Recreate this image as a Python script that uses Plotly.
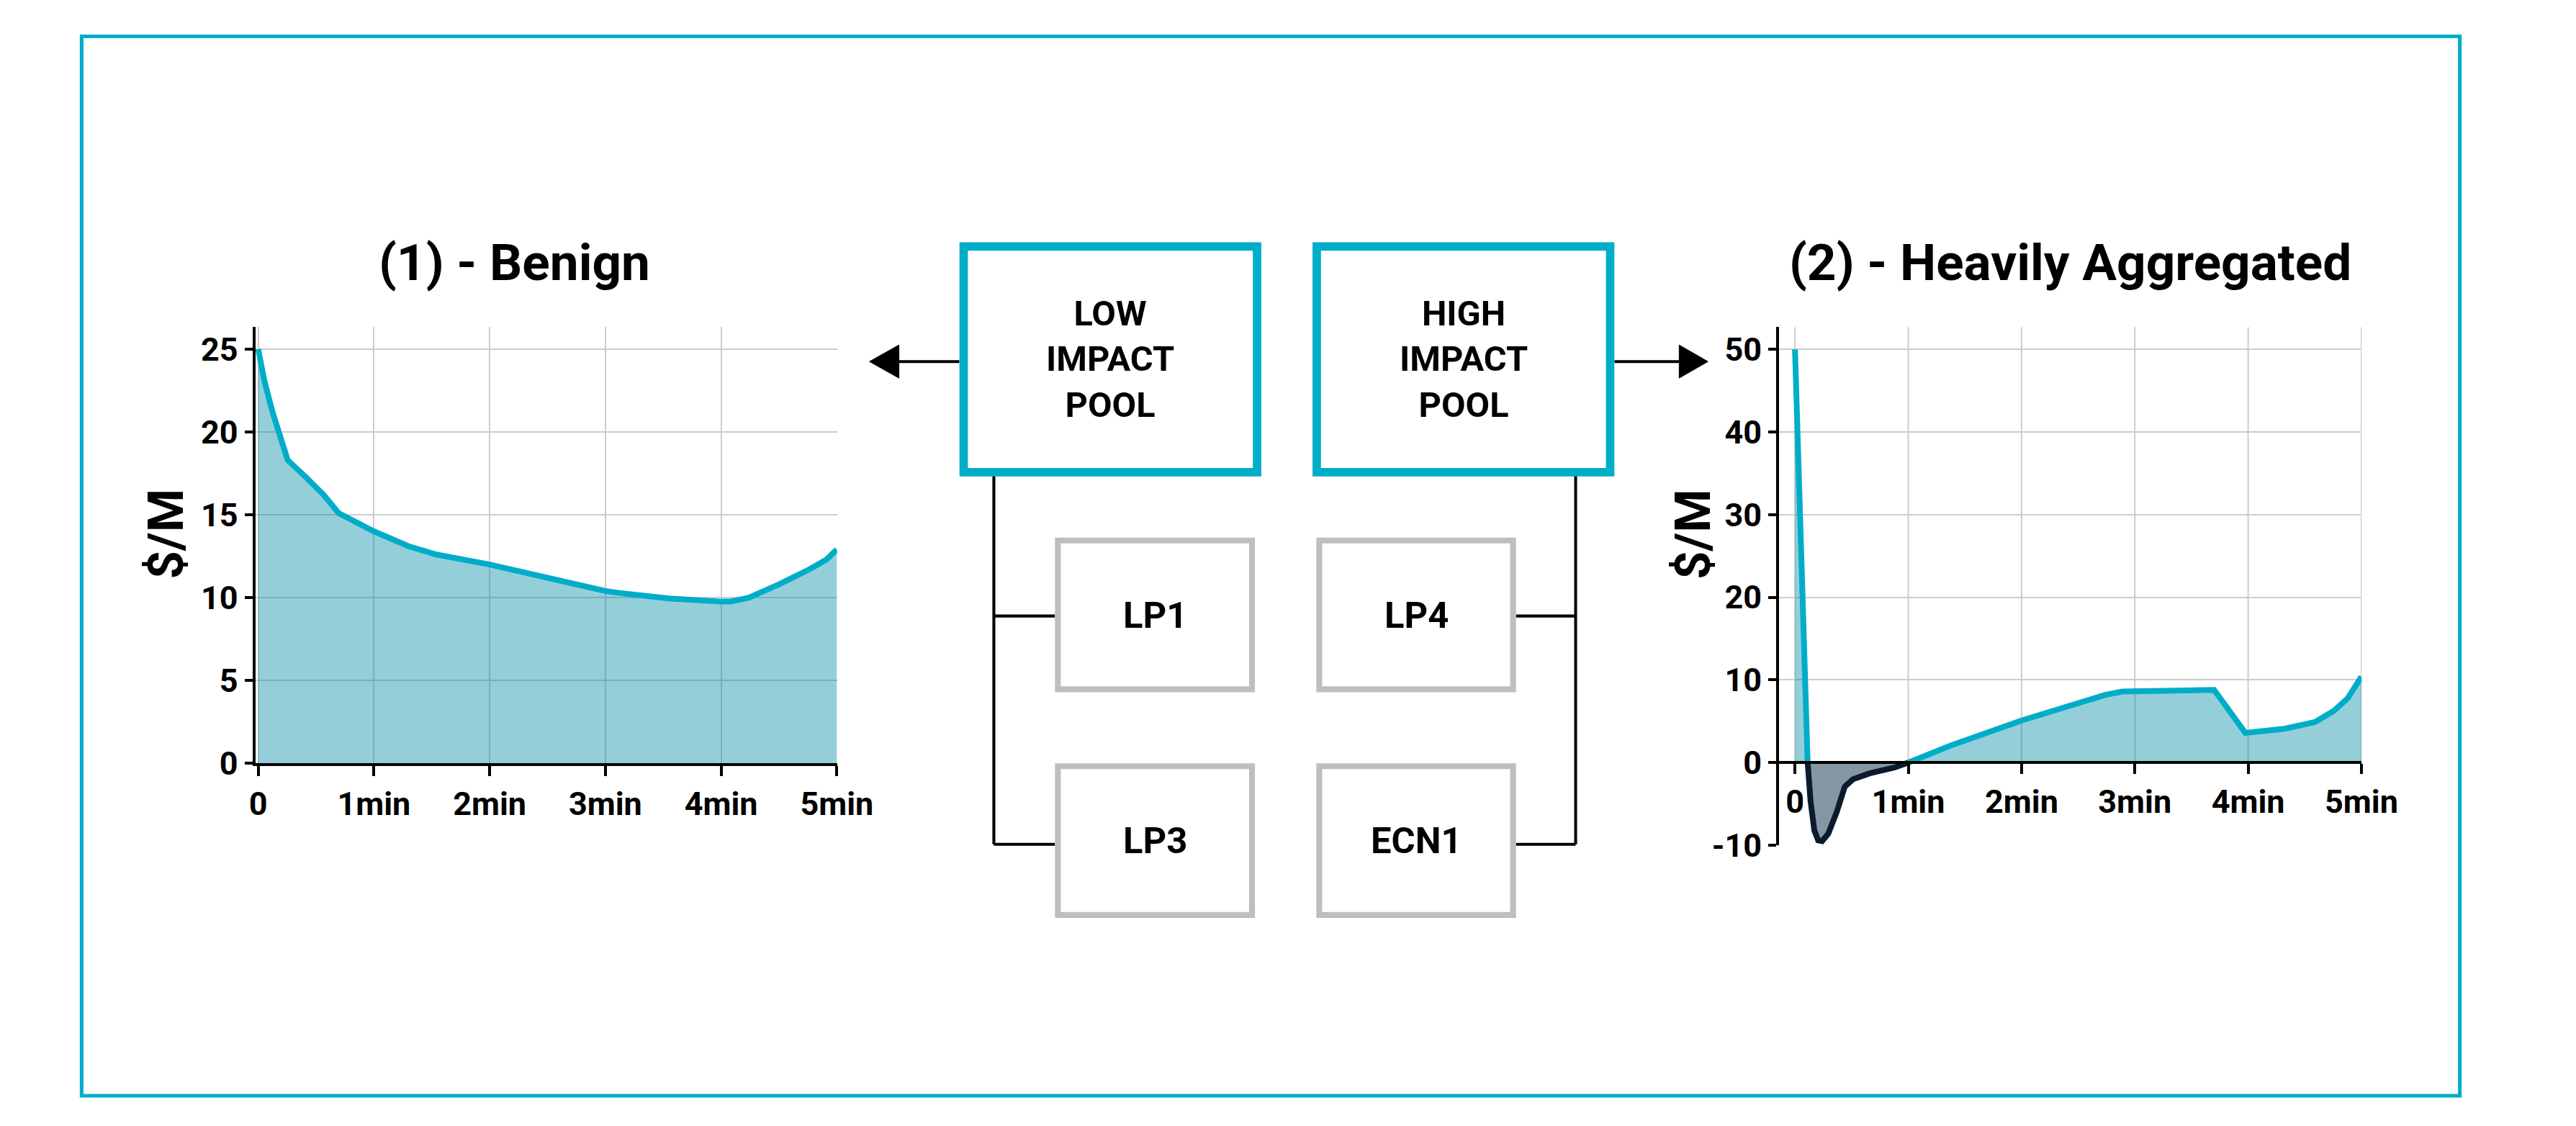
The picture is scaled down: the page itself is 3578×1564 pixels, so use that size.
import plotly.graph_objects as go

W, H = 3578, 1564
K = 1.0159  # calibration of measured pixel positions

# ---------------- data ----------------
minute_ticks = [0, 1, 2, 3, 4, 5]
minute_labels = ["0", "1min", "2min", "3min", "4min", "5min"]

benign_ticks = [0, 5, 10, 15, 20, 25]
benign_labels = ["0", "5", "10", "15", "20", "25"]

agg_ticks = [-10, 0, 10, 20, 30, 40, 50]
agg_labels = ["-10", "0", "10", "20", "30", "40", "50"]

# (1) Benign  (time in minutes, cost in $/M)
benign_t = [0, 0.053, 0.124, 0.196, 0.255, 0.422, 0.566, 0.696, 1.0, 1.30, 1.54,
            2.0, 2.48, 3.0, 3.12, 3.55, 4.0, 4.08, 4.24, 4.50, 4.76, 4.91, 5.0]
benign_v = [25.0, 23.1, 21.2, 19.7, 18.3, 17.2, 16.2, 15.1, 14.0, 13.1, 12.6,
            12.0, 11.2, 10.4, 10.28, 9.95, 9.76, 9.76, 10.0, 10.8, 11.7, 12.3, 12.9]

# (2) Heavily Aggregated
spike_t = [0, 0.112]
spike_v = [50, 0]
dip_t = [0.112, 0.137, 0.171, 0.205, 0.239, 0.294, 0.368, 0.44, 0.514, 0.66, 0.876, 1.0]
dip_v = [0, -4.6, -8.2, -9.4, -9.5, -8.6, -6.0, -2.9, -2.0, -1.3, -0.6, 0]
rise_t = [1.0, 1.363, 2.0, 2.62, 2.74, 2.89, 3.70, 3.975, 4.32, 4.59, 4.76, 4.88, 5.0]
rise_v = [0, 2.0, 5.1, 7.6, 8.2, 8.6, 8.8, 3.6, 4.1, 4.9, 6.3, 7.8, 10.4]

# diagram texts
pool_labels = ["LOW<br>IMPACT<br>POOL", "HIGH<br>IMPACT<br>POOL"]
lp_labels = ["LP1", "LP3", "LP4", "ECN1"]
titles = ["(1) - Benign", "(2) - Heavily Aggregated"]
y_title = "$/M"

# ---------------- styles ----------------
TEAL = "#00adc8"
FILL = "rgba(0,140,165,0.42)"
GRAY_BOX = "#bdbec0"
DARK = "#0b1b2d"
DIP_FILL = "#8597a4"
GRID = "#cccccc"
FONT = "Roboto, 'DejaVu Sans', sans-serif"


def X(px):
    return px * K / W


def Y(py):
    return 1 - py * K / H


def S(v):
    return v * K


fig = go.Figure()

# left chart
fig.add_trace(go.Scatter(x=benign_t, y=benign_v, mode="lines", fill="tozeroy",
                         fillcolor=FILL, line=dict(color=TEAL, width=8),
                         xaxis="x", yaxis="y", hoverinfo="skip"))

# right chart vertical grid (only above zero)
gx, gy = [], []
for t in minute_ticks:
    gx += [t, t, None]
    gy += [0, 52.7, None]
fig.add_trace(go.Scatter(x=gx, y=gy, mode="lines", line=dict(color=GRID, width=2),
                         xaxis="x2", yaxis="y2", hoverinfo="skip"))

fig.add_trace(go.Scatter(x=dip_t, y=dip_v, mode="lines", fill="tozeroy",
                         fillcolor=DIP_FILL, line=dict(color=DARK, width=8),
                         xaxis="x2", yaxis="y2", hoverinfo="skip"))
fig.add_trace(go.Scatter(x=spike_t, y=spike_v, mode="lines", fill="tozeroy",
                         fillcolor=FILL, line=dict(color=TEAL, width=8),
                         xaxis="x2", yaxis="y2", hoverinfo="skip"))
fig.add_trace(go.Scatter(x=rise_t, y=rise_v, mode="lines", fill="tozeroy",
                         fillcolor=FILL, line=dict(color=TEAL, width=8),
                         xaxis="x2", yaxis="y2", hoverinfo="skip"))

tickfont = dict(family=FONT, size=45, color="#000", weight="bold")
common_x = dict(tickvals=minute_ticks, ticktext=minute_labels, showline=True,
                linecolor="#000", linewidth=4, ticks="outside", ticklen=14,
                tickwidth=4, tickcolor="#000", zeroline=False, tickfont=tickfont,
                fixedrange=True)
common_y = dict(showline=True, linecolor="#000", linewidth=4, ticks="outside",
                ticklen=11, tickwidth=4, tickcolor="#000", zeroline=False,
                showgrid=True, gridcolor=GRID, gridwidth=2, tickfont=tickfont,
                fixedrange=True)

fig.update_layout(
    width=W, height=H, autosize=False,
    margin=dict(l=0, r=0, t=0, b=0, pad=0),
    paper_bgcolor="white", plot_bgcolor="rgba(0,0,0,0)",
    showlegend=False,
    xaxis=dict(domain=[X(346), X(1155)], range=[-0.0248, 5.002], anchor="y",
               showgrid=True, gridcolor=GRID, gridwidth=2, **common_x),
    yaxis=dict(domain=[Y(1062), Y(455)], range=[0, 26.33], anchor="x",
               tickvals=benign_ticks, ticktext=benign_labels, **common_y),
    xaxis2=dict(domain=[X(2465), X(3275)], range=[-0.1396, 5.002], anchor="free",
                position=Y(1061), showgrid=False, **common_x),
    yaxis2=dict(domain=[Y(1176), Y(455)], range=[-10, 52.7], anchor="x2",
                tickvals=agg_ticks, ticktext=agg_labels, **common_y),
)

shapes = []
# outer frame
shapes.append(dict(type="rect", xref="paper", yref="paper", x0=X(104.5), x1=X(3411.5),
                   y0=Y(1524.5), y1=Y(50.5), line=dict(color=TEAL, width=S(5))))
# connectors
blk = dict(color="#000", width=S(4))
for seg in [((1373, 662), (1373, 1174.6)), ((1373, 857), (1458, 857)),
            ((1373, 1174.6), (1458, 1174.6)), ((2182, 662), (2182, 1174.6)),
            ((2099, 857), (2182, 857)), ((2099, 1174.6), (2182, 1174.6)),
            ((1241, 503), (1325, 503)), ((2236, 503), (2326, 503))]:
    (a, b), (c, d) = seg
    shapes.append(dict(type="line", xref="paper", yref="paper", x0=X(a), y0=Y(b),
                       x1=X(c), y1=Y(d), line=blk))
# arrow heads
for tip, base in [(1200, 1241), (2366, 2326)]:
    path = f"M {X(tip)} {Y(503)} L {X(base)} {Y(480)} L {X(base)} {Y(526)} Z"
    shapes.append(dict(type="path", xref="paper", yref="paper", path=path,
                       fillcolor="#000", line=dict(color="#000", width=1)))
# pool boxes
pool_boxes = [(1331, 1739), (1822, 2230)]
for x0, x1 in pool_boxes:
    shapes.append(dict(type="rect", xref="paper", yref="paper", x0=X(x0), x1=X(x1),
                       y0=Y(657), y1=Y(343), fillcolor="white",
                       line=dict(color=TEAL, width=S(11.5))))
# LP boxes
lp_boxes = [(1462, 1732, 752, 959), (1462, 1732, 1066, 1273),
            (1825.5, 2095, 752, 959), (1825.5, 2095, 1066, 1273)]
for x0, x1, y0, y1 in lp_boxes:
    shapes.append(dict(type="rect", xref="paper", yref="paper", x0=X(x0), x1=X(x1),
                       y0=Y(y1), y1=Y(y0), fillcolor="white",
                       line=dict(color=GRAY_BOX, width=S(8))))
fig.update_layout(shapes=shapes)

ann = []
for (x0, x1), txt in zip(pool_boxes, pool_labels):
    ann.append(dict(x=X((x0 + x1) / 2), y=Y(500), xref="paper", yref="paper",
                    text=txt, showarrow=False, xanchor="center", yanchor="middle",
                    font=dict(family=FONT, size=S(48), color="#000", weight="bold")))
for (x0, x1, y0, y1), txt in zip(lp_boxes, lp_labels):
    ann.append(dict(x=X((x0 + x1) / 2), y=Y((y0 + y1) / 2), xref="paper", yref="paper",
                    text=txt, showarrow=False, xanchor="center", yanchor="middle",
                    font=dict(family=FONT, size=S(50), color="#000", weight="bold")))
for cx, txt in zip([706, 2870], titles):
    ann.append(dict(x=X(cx), y=Y(365), xref="paper", yref="paper", text=txt,
                    showarrow=False, xanchor="center", yanchor="middle",
                    font=dict(family=FONT, size=S(70), color="#000", weight="bold")))
for cx in [222, 2345]:
    ann.append(dict(x=X(cx), y=Y(743), xref="paper", yref="paper", text=y_title,
                    showarrow=False, xanchor="center", yanchor="middle", textangle=-90,
                    font=dict(family=FONT, size=S(68), color="#000", weight="bold")))
fig.update_layout(annotations=ann)

fig.write_html("out.html", config={"displayModeBar": False},
               post_script="document.body.style.margin='0';document.body.style.overflow='hidden';")
